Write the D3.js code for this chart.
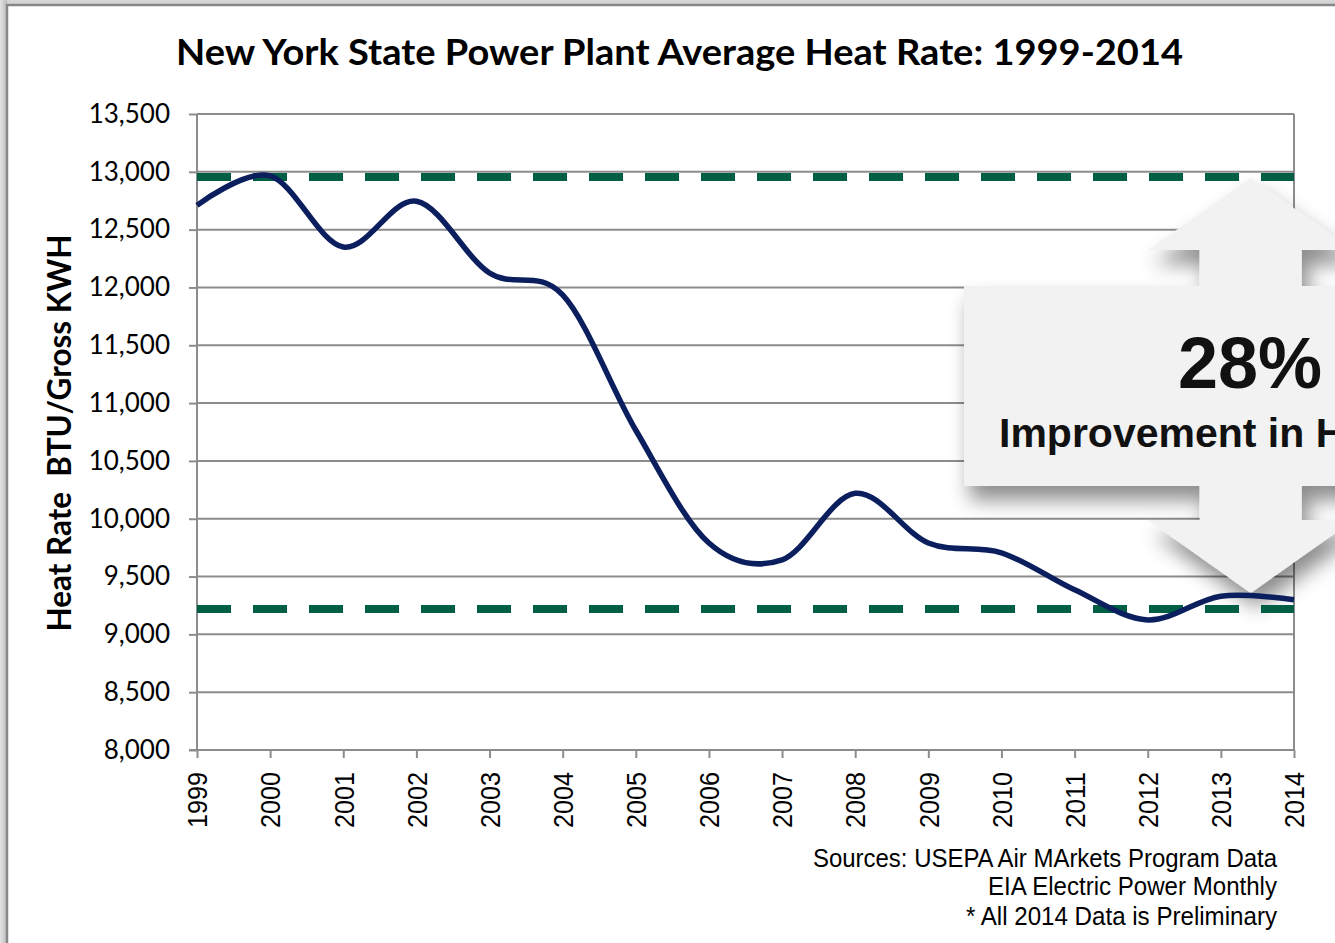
<!DOCTYPE html>
<html><head><meta charset="utf-8">
<script src="https://cdn.jsdelivr.net/npm/d3@7"></script>
<style>
html,body{margin:0;padding:0;background:#cfcfcf;overflow:hidden;}
svg{display:block;}
</style></head>
<body>
<svg id="chart" width="1335" height="943"></svg>
<script>
// ---- data ----
const years = [1999,2000,2001,2002,2003,2004,2005,2006,2007,2008,2009,2010,2011,2012,2013,2014];
const heatRate = [12710,12965,12350,12745,12125,11935,10765,9790,9645,10220,9790,9705,9385,9125,9330,9300];
const yTicks = [8000,8500,9000,9500,10000,10500,11000,11500,12000,12500,13000,13500];
const refHigh = 12955;
const refLow = 9220;
const titleText = "New York State Power Plant Average Heat Rate: 1999-2014";
const yLabelText = "Heat Rate  BTU/Gross KWH";
const sourceLines = ["Sources: USEPA Air MArkets Program Data","EIA Electric Power Monthly","* All 2014 Data is Preliminary"];
const calloutBig = "28%";
const calloutSmall = "Improvement in Heat Rate";

const svg = d3.select("#chart");
const defs = svg.append("defs");
const lg = defs.append("linearGradient").attr("id","leftStrip").attr("x1",0).attr("x2",1).attr("y1",0).attr("y2",0);
lg.append("stop").attr("offset","0%").attr("stop-color","#e2e2e2");
lg.append("stop").attr("offset","100%").attr("stop-color","#bdbdbd");
const f = defs.append("filter").attr("id","shadow").attr("x","-30%").attr("y","-30%").attr("width","160%").attr("height","160%");
f.append("feDropShadow").attr("dx",6).attr("dy",14).attr("stdDeviation",10)
  .attr("flood-color","#000").attr("flood-opacity",0.45);

// background frame
svg.append("rect").attr("x",0).attr("y",0).attr("width",1335).attr("height",943).attr("fill","#d5d5d5");
svg.append("rect").attr("x",0).attr("y",0).attr("width",7).attr("height",943).attr("fill","url(#leftStrip)");
svg.append("rect").attr("x",7).attr("y",5).attr("width",1400).attr("height",1000)
  .attr("fill","#fff").attr("stroke","#878787").attr("stroke-width",2.5);

// scales
const x = d3.scaleLinear().domain([1999,2014]).range([197,1294]);
const y = d3.scaleLinear().domain([8000,13500]).range([750,114]);

// gridlines
svg.append("g").selectAll("line").data(yTicks.slice(1)).join("line")
  .attr("x1",x(1999)).attr("x2",x(2014)).attr("y1",d=>y(d)).attr("y2",d=>y(d))
  .attr("stroke","#8c8c8c").attr("stroke-width",2);
// right plot border
svg.append("line").attr("x1",x(2014)).attr("x2",x(2014)).attr("y1",y(13500)).attr("y2",y(8000))
  .attr("stroke","#8c8c8c").attr("stroke-width",2);

// axes
const yAxis = svg.append("g").attr("transform",`translate(${x(1999)},0)`)
  .call(d3.axisLeft(y).tickValues(yTicks).tickSize(8).tickPadding(19).tickFormat(d3.format(",")));
yAxis.selectAll("path,line").attr("stroke","#8c8c8c").attr("stroke-width",2);
yAxis.select(".domain").attr("d",`M0,${y(8000)}V${y(13500)}`);
yAxis.selectAll("text").attr("font-family","Lato, 'Open Sans', sans-serif").attr("font-size",26).attr("fill","#000");

const xAxis = svg.append("g").attr("transform",`translate(0,${y(8000)})`)
  .call(d3.axisBottom(x).tickValues(years).tickSize(8).tickFormat(d3.format("d")));
xAxis.selectAll("path,line").attr("stroke","#8c8c8c").attr("stroke-width",2);
xAxis.select(".domain").attr("d",`M${x(1999)-8},0H${x(2014)}`);
xAxis.selectAll("text")
  .attr("transform","rotate(-90)").attr("x",-22).attr("y",0).attr("dy","0.36em")
  .style("text-anchor","end")
  .attr("font-family","'Liberation Sans', Arial, sans-serif").attr("font-size",27).attr("fill","#000")
  .attr("textLength",56).attr("lengthAdjust","spacingAndGlyphs");

// callout (double arrow + box) with shadow
const tipX = x(2012) + 103;
const call = svg.append("g").attr("filter","url(#shadow)");
const arrowPts = [[tipX,178],[tipX+103,250],[tipX+51,250],[tipX+51,520],[tipX+103,520],[tipX,593],[tipX-103,520],[tipX-51,520],[tipX-51,250],[tipX-103,250]];
call.append("path").attr("d", d3.line()(arrowPts)+"Z").attr("fill","#f2f2f2");
call.append("rect").attr("x",964).attr("y",286).attr("width",520).attr("height",200).attr("fill","#f2f2f2");

// reference dashed lines
svg.append("g").selectAll("line").data([refHigh,refLow]).join("line")
  .attr("x1",x(1999)).attr("x2",x(2014)).attr("y1",d=>y(d)).attr("y2",d=>y(d))
  .attr("stroke","#005e45").attr("stroke-width",8).attr("stroke-dasharray","34,22");

// data line
const line = d3.line().x((d,i)=>x(years[i])).y(d=>y(d)).curve(d3.curveCardinal.tension(0));
svg.append("path").datum(heatRate).attr("d",line).attr("fill","none")
  .attr("stroke","#0b1f5e").attr("stroke-width",5.5).attr("stroke-linejoin","round");

// callout texts
svg.append("text").attr("x",1178).attr("y",388).text(calloutBig)
  .attr("font-family","'Liberation Sans', Arial, sans-serif").attr("font-weight","bold").attr("font-size",72).attr("fill","#111");
svg.append("text").attr("x",999).attr("y",447).text(calloutSmall)
  .attr("font-family","'Liberation Sans', Arial, sans-serif").attr("font-weight","bold").attr("font-size",41).attr("fill","#111");

// title
svg.append("text").attr("x",679.5).attr("y",65).attr("text-anchor","middle").text(titleText)
  .attr("font-family","Lato, sans-serif").attr("font-weight","bold").attr("font-size",36).attr("fill","#000")
  .attr("textLength",1007).attr("lengthAdjust","spacingAndGlyphs");

// y label
svg.append("text").attr("transform","translate(71,433) rotate(-90)").attr("text-anchor","middle").text(yLabelText)
  .style("white-space","pre").attr("xml:space","preserve")
  .attr("font-family","Lato, sans-serif").attr("font-weight","bold").attr("font-size",32).attr("fill","#000")
  .attr("textLength",397).attr("lengthAdjust","spacingAndGlyphs");

// sources
const srcY = [867,895,925];
const srcW = [464,289,311];
svg.append("g").selectAll("text").data(sourceLines).join("text")
  .attr("x",1277).attr("y",(d,i)=>srcY[i]).attr("text-anchor","end").text(d=>d)
  .attr("font-family","'Liberation Sans', Arial, sans-serif").attr("font-size",25).attr("fill","#000")
  .attr("textLength",(d,i)=>srcW[i]).attr("lengthAdjust","spacingAndGlyphs");
</script>
</body></html>
